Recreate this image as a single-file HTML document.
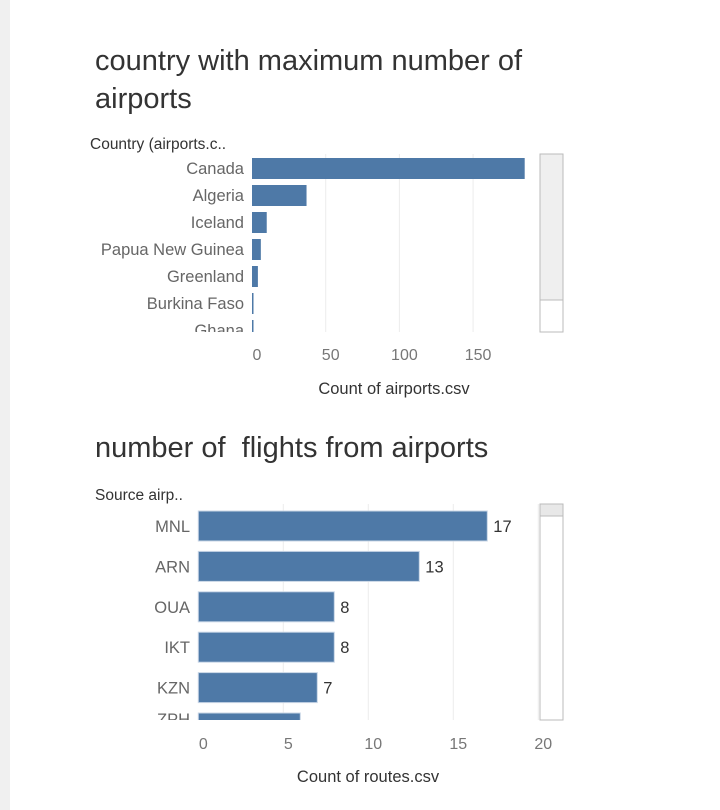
<!DOCTYPE html>
<html><head><meta charset="utf-8">
<style>
html,body{margin:0;padding:0;background:#fff;}
svg{display:block;font-family:"Liberation Sans",sans-serif;}
text{white-space:pre;}
</style></head>
<body>
<svg id="c" width="720" height="810" xmlns="http://www.w3.org/2000/svg">
<rect x="0" y="0" width="10" height="810" fill="#f0f0f0"/>
<text x="95" y="70" font-size="29" fill="#333">country with maximum number of</text>
<text x="95" y="108" font-size="29" fill="#333">airports</text>
<text x="90" y="149" font-size="15.5" fill="#333">Country (airports.c..</text>
<text x="95" y="457" font-size="29" fill="#333" xml:space="preserve">number of  flights from airports</text>
<text x="95" y="500" font-size="15.5" fill="#333">Source airp..</text>
<text x="394" y="394" font-size="16.5" fill="#333" text-anchor="middle">Count of airports.csv</text>
<text x="368" y="782" font-size="16.5" fill="#333" text-anchor="middle">Count of routes.csv</text>
<g id="g1"></g>
<g id="g2"></g>
<rect x="540" y="154" width="23" height="178" fill="#fff" stroke="#bbb"/>
<rect x="540" y="154" width="23" height="146" fill="#efefef" stroke="#bbb"/>
<rect x="540" y="504" width="23" height="216" fill="#fff" stroke="#bbb"/>
<rect x="540" y="504" width="23" height="12" fill="#e8e8e8" stroke="#bbb"/>
</svg>
<script>
const countries = ["Canada","Algeria","Iceland","Papua New Guinea","Greenland","Burkina Faso","Ghana"];
const airportCounts = [185,37,10,6,4,1,1];
const ticks1 = [0,50,100,150];
const sources = ["MNL","ARN","OUA","IKT","KZN","ZPH"];
const routeCounts = [17,13,8,8,7,6];
const ticks2 = [0,5,10,15,20];

const NS="http://www.w3.org/2000/svg";
function mk(tag,attrs,parent,text){const e=document.createElementNS(NS,tag);for(const k in attrs)e.setAttribute(k,attrs[k]);if(text!==undefined)e.textContent=text;parent.appendChild(e);return e;}
const svg=document.getElementById('c');
const defs=mk('defs',{},svg);
const cp1=mk('clipPath',{id:'cp1'},defs);mk('rect',{x:0,y:150,width:540,height:182},cp1);
const cp2=mk('clipPath',{id:'cp2'},defs);mk('rect',{x:0,y:500,width:540,height:220},cp2);

// chart 1
const g1=document.getElementById('g1');
const x1=v=>252+v*(73.7/50);
const y1=i=>158+i*27;
ticks1.forEach(t=>{
  if(t>0){const l=mk('line',{x1:x1(t),x2:x1(t),y1:154,y2:332,stroke:'#ececec'},g1);
  
  }
  const tx=mk('text',{x:x1(t)+5,y:360,'font-size':16,fill:'#777','text-anchor':'middle'},g1,String(t));
  
  
});
const b1=mk('g',{'clip-path':'url(#cp1)'},g1);
countries.forEach((c,i)=>{
  const r=mk('rect',{x:252,y:y1(i),width:Math.max(1.5,x1(airportCounts[i])-252),height:21,fill:'#4e79a7'},b1);
  
  
  const t=mk('text',{x:244,y:y1(i)+16,'font-size':16.5,fill:'#666','text-anchor':'end'},b1,c);
  
  
});

// chart 2
const g2=document.getElementById('g2');
const x2=v=>198.3+v*17;
const y2=i=>511+i*40.4;
ticks2.forEach(t=>{
  if(t>0){const l=mk('line',{x1:x2(t),x2:x2(t),y1:504,y2:720,stroke:'#ececec'},g2);
  
  }
  const tx=mk('text',{x:x2(t)+5,y:749,'font-size':16,fill:'#777','text-anchor':'middle'},g2,String(t));
  
  
});
const b2=mk('g',{'clip-path':'url(#cp2)'},g2);
sources.forEach((s,i)=>{
  const r=mk('rect',{x:198.3,y:y2(i),width:x2(routeCounts[i])-198.3,height:30,fill:'#4e79a7',stroke:'#c8d6e6','stroke-width':1},b2);
  
  
  const ly = i===sources.length-1 ? y2(i)+12 : y2(i)+21;
  const t=mk('text',{x:190,y:ly,'font-size':16.5,fill:'#666','text-anchor':'end'},b2,s);
  
  
  const v=mk('text',{x:x2(routeCounts[i])+6,y:y2(i)+21,'font-size':16.5,fill:'#333'},b2,String(routeCounts[i]));
  
  
});
</script>
</body></html>
